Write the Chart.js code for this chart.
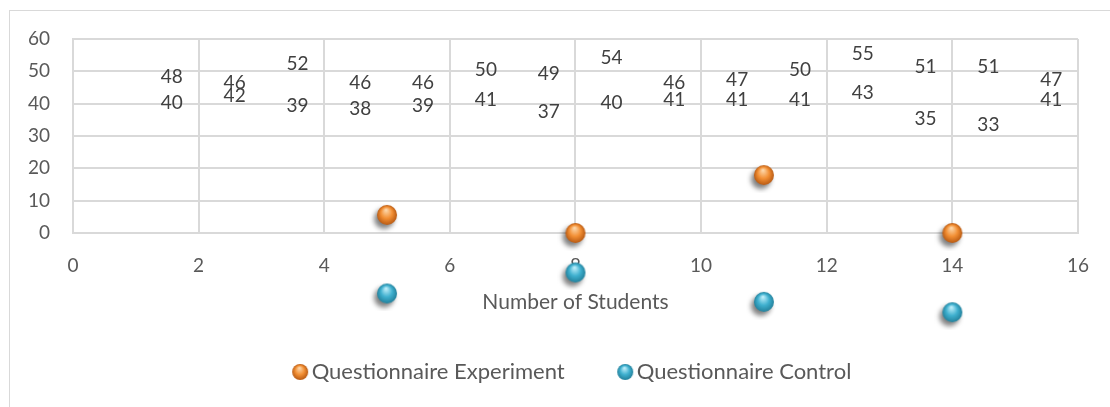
<!DOCTYPE html>
<html>
<head>
<meta charset="utf-8">
<title>Questionnaire scores</title>
<script src="https://cdn.jsdelivr.net/npm/chart.js@4.4.1/dist/chart.umd.min.js"></script>
<style>
  html, body { margin: 0; padding: 0; background: #fff; }
  #frame { position: absolute; left: 9px; top: 10px; width: 1200px; height: 500px; border: 1px solid #d9d9d9; }
  #wrap { position: absolute; left: 0; top: 0; width: 1110px; height: 407px; }
</style>
</head>
<body>
<div id="frame"></div>
<div id="wrap"><canvas id="chart" width="1110" height="407"></canvas></div>
<script>
// Data
const students = [1, 2, 3, 4, 5, 6, 7, 8, 9, 10, 11, 12, 13, 14, 15];
const upperScores = [48, 46, 52, 46, 46, 50, 49, 54, 46, 47, 50, 55, 51, 51, 47];
const lowerScores = [40, 42, 39, 38, 39, 41, 37, 40, 41, 41, 41, 43, 35, 33, 41];
const groupStudents = [5, 8, 11, 14];
const experimentValues = [5.6, 0, 17.9, 0];
const controlValues = [-18.7, -12.2, -21.3, -24.5];

const FONT = 'Lato, "Open Sans", sans-serif';
const TEXT = '#595959';
const GRID = '#d9d9d9';

// little 3D balls like the Excel markers
function makeBall(light, mid, dark, r, withShadow) {
  const size = Math.ceil(r * 2 + 16);
  const c = document.createElement('canvas');
  c.width = size; c.height = size;
  const g = c.getContext('2d');
  const cx = size / 2, cy = size / 2;
  const grad = g.createRadialGradient(cx - r * 0.1, cy - r * 0.5, r * 0.05, cx, cy, r);
  grad.addColorStop(0, light);
  grad.addColorStop(0.55, mid);
  grad.addColorStop(1, dark);
  if (withShadow) {
    g.shadowColor = 'rgba(0,0,0,0.5)';
    g.shadowBlur = 5;
    g.shadowOffsetX = -3;
    g.shadowOffsetY = 4;
  }
  g.beginPath();
  g.arc(cx, cy, r, 0, Math.PI * 2);
  g.fillStyle = grad;
  g.fill();
  return c;
}

const orangeBall = makeBall('#fdd6a8', '#f28f34', '#b95a12', 10, true);
const blueBall = makeBall('#bdeefa', '#3fb0cf', '#23819c', 10, true);
const orangeKey = makeBall('#fdd6a8', '#f28f34', '#b95a12', 8, false);
const blueKey = makeBall('#bdeefa', '#3fb0cf', '#23819c', 8, false);

const toPoints = (xs, ys) => xs.map((x, i) => ({ x: x, y: ys[i] }));

// draws the value next to each hidden point, and the balls that
// Chart.js skips because they sit below the plot area
const extras = {
  id: 'extras',
  afterDatasetsDraw(chart) {
    const ctx = chart.ctx;
    const area = chart.chartArea;
    ctx.save();
    chart.data.datasets.forEach((ds, i) => {
      if (!ds.ball) return;
      chart.getDatasetMeta(i).data.forEach(pt => {
        if (pt.y > area.bottom + 10.5 || pt.y < area.top - 10.5) {
          const img = ds.ball;
          ctx.drawImage(img, pt.x - img.width / 2, pt.y - img.height / 2);
        }
      });
    });
    ctx.font = '19px ' + FONT;
    ctx.fillStyle = '#404040';
    ctx.textAlign = 'left';
    ctx.textBaseline = 'middle';
    chart.data.datasets.forEach((ds, i) => {
      if (!ds.valueLabels) return;
      chart.getDatasetMeta(i).data.forEach((pt, j) => {
        ctx.fillText(String(ds.data[j].y), pt.x + 25, pt.y - 1);
      });
    });
    ctx.restore();
  }
};

new Chart(document.getElementById('chart'), {
  type: 'scatter',
  data: {
    datasets: [
      {
        label: 'Questionnaire Experiment',
        data: toPoints(groupStudents, experimentValues),
        pointStyle: orangeBall,
        pointRadius: 10,
        backgroundColor: '#f28f34',
        clip: false,
        ball: orangeBall,
        keyStyle: orangeKey
      },
      {
        label: 'Questionnaire Control',
        data: toPoints(groupStudents, controlValues),
        pointStyle: blueBall,
        pointRadius: 10,
        backgroundColor: '#3fb0cf',
        clip: false,
        ball: blueBall,
        keyStyle: blueKey
      },
      {
        label: 'upper',
        data: toPoints(students, upperScores),
        pointRadius: 0,
        valueLabels: true
      },
      {
        label: 'lower',
        data: toPoints(students, lowerScores),
        pointRadius: 0,
        valueLabels: true
      }
    ]
  },
  options: {
    responsive: false,
    animation: false,
    layout: { padding: { top: 39, right: 30, bottom: 14, left: 0 } },
    scales: {
      x: {
        type: 'linear',
        min: 0,
        max: 16,
        afterFit: s => { s.height = 68; },
        ticks: { stepSize: 2, color: TEXT, font: { family: FONT, size: 19 }, padding: 21 },
        grid: { color: GRID, lineWidth: 2, drawTicks: false },
        border: { color: GRID, width: 2 },
        title: {
          display: true,
          text: 'Number of Students',
          color: TEXT,
          font: { family: FONT, size: 21 },
          padding: { top: 0, bottom: -14.2 }
        }
      },
      y: {
        min: 0,
        max: 60,
        afterFit: s => { s.width = 73; },
        ticks: { stepSize: 10, color: TEXT, font: { family: FONT, size: 19 }, padding: 23 },
        grid: { color: GRID, lineWidth: 2, drawTicks: false },
        border: { color: GRID, width: 2 }
      }
    },
    plugins: {
      tooltip: { enabled: false },
      legend: {
        position: 'bottom',
        fullSize: false,
        labels: {
          color: TEXT,
          font: { family: FONT, size: 22 },
          usePointStyle: true,
          pointStyleWidth: 1,
          padding: 60,
          filter: item => item.datasetIndex < 2,
          generateLabels: chart => chart.data.datasets.map((ds, i) => ({
            text: ds.label,
            fontColor: TEXT,
            pointStyle: ds.keyStyle,
            fillStyle: ds.backgroundColor,
            strokeStyle: ds.backgroundColor,
            lineWidth: 0,
            hidden: false,
            datasetIndex: i
          }))
        }
      }
    }
  },
  plugins: [extras]
});
</script>
</body>
</html>
